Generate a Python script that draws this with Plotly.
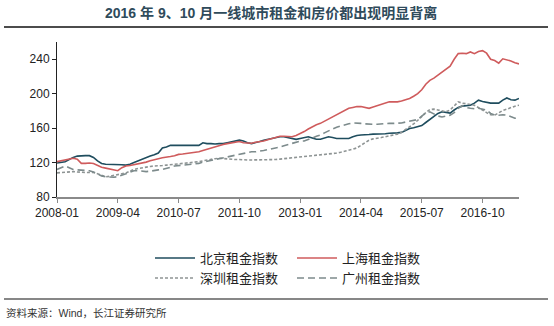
import pandas as pd
import plotly.graph_objects as go

# Monthly rent indices, 2008-01 onward
beijing = [
    119.5, 120, 121, 123.5, 126, 127.5, 128, 128, 128, 126,
    122, 119, 118, 118, 118, 117.5, 117.5, 117, 118, 120,
    122, 124, 126, 127.5, 129, 131, 137, 138, 140, 140,
    140, 140, 140, 139.5, 140, 140, 143, 142, 142, 141.5,
    142, 142, 143, 144, 145.5, 146, 145, 143, 142, 143,
    144.5, 146, 147, 148, 148.5, 150, 150, 149, 148, 147,
    148, 149, 150, 148.5, 147, 147, 148.5, 150, 149, 148,
    148, 148, 148, 150, 151.5, 152, 152, 152.5, 153, 153,
    153, 153.5, 154, 154, 154.5, 155, 157, 159.5, 160.5, 161.5,
    163, 166.5, 170, 174, 177, 179, 178, 177.5, 181, 184,
    185.5, 186, 186.5, 189, 192.5, 191, 190, 189, 189, 189,
    192.5, 195, 193, 192.5, 194.5,
]
shanghai = [
    121, 122, 123, 124.5, 125, 124, 119, 119, 119.5, 119,
    116.5, 114.5, 113.5, 112.5, 112, 110.5, 114, 116, 116.5, 117.5,
    118, 119, 120.5, 122, 123.5, 124.5, 125.5, 126, 127, 128,
    129.5, 130, 130.5, 131, 132, 132.5, 134, 135.5, 136.5, 138,
    139.5, 141, 142, 143, 144, 144.5, 143, 142.5, 142.5, 143.5,
    144, 145, 146.5, 148, 149.5, 150.5, 150.5, 150, 150, 151.5,
    153.5, 156, 159, 161.5, 164, 165.5, 168, 170, 172.5, 175.5,
    177.5, 180, 183, 184, 185, 185, 184, 183, 184.5, 186,
    187.5, 189.5, 190.5, 190.5, 190.5, 191.5, 193, 194.5, 197, 200,
    204.5, 211, 215.5, 218, 221.5, 225, 228, 232, 240, 246.5,
    247, 246.5, 248.5, 246.5, 249, 250, 247, 240, 238.5, 235.5,
    240.5, 239.5, 238, 236, 234.5,
]
shenzhen = [
    108, 108.5, 109, 109.5, 109.5, 109, 108.5, 108.5, 108.5, 108.5,
    107, 105, 103.5, 104, 105, 106, 106.5, 108, 110, 112,
    113, 114, 115, 115.5, 116, 116, 116.5, 117, 117.5, 118,
    118, 118.5, 119, 119.5, 120.5, 121, 122, 123, 124, 124.5,
    125, 124.5, 124, 123.5, 123.5, 123.5, 123, 123, 123, 123,
    123, 123, 123.5, 123.5, 123.5, 124, 124.5, 125, 125.5, 126,
    126.5, 126.5, 127, 127.5, 128, 128.5, 129, 130, 130.5, 131,
    132, 133, 134, 135.5, 137, 140, 143, 146, 147.5, 148,
    149, 150, 151, 152, 153, 155, 158, 161, 165, 169,
    174, 178, 181.5, 182, 181, 180, 179, 181, 186, 190.5,
    189, 188.5, 187.5, 186.5, 184, 181, 178, 175.5, 175, 178,
    180.5, 182, 184, 185.5, 186.5,
]
guangzhou = [
    112, 114, 116, 114, 112, 111.5, 111, 110.5, 110.5, 109,
    106.5, 104.5, 103.5, 103, 103, 103.5, 105, 107, 109, 110.5,
    110.5, 110, 109.5, 110, 111, 111.5, 112, 113, 114.5, 116,
    116.5, 117, 117.5, 118, 118.5, 119, 120.5, 121.5, 123, 124,
    125, 126, 127, 128, 128.5, 129.5, 131, 132, 132.5, 132.5,
    133, 134, 135, 136, 136.5, 138, 139.5, 141, 142.5, 144,
    145, 145, 146.5, 148.5, 150.5, 152, 154.5, 157, 159, 161,
    162.5, 164, 165, 166, 166, 165.5, 165, 164.5, 164.5, 164.5,
    165, 165, 165.5, 165.5, 165.5, 166, 167, 168, 169, 170,
    174, 177.5, 179, 176, 174, 173, 174, 175, 178, 183,
    186, 184, 183, 182.5, 183, 182, 181, 177, 175, 175,
    175.5, 175, 173, 171.5, 171,
]

months = pd.date_range("2008-01-01", periods=len(beijing), freq="MS").strftime("%Y-%m").tolist()
tick_labels = ["2008-01", "2009-04", "2010-07", "2011-10", "2013-01", "2014-04", "2015-07", "2016-10"]
y_ticks = [80, 120, 160, 200, 240]

names = ["北京租金指数", "上海租金指数", "深圳租金指数", "广州租金指数"]
colors = ["#1f4d5e", "#cf5b5c", "#8e9494", "#7d8b8c"]
dashes = ["solid", "solid", "3px,2px", "7px,4px"]
legends = ["legend", "legend", "legend2", "legend2"]

W, H = 554, 326
L, R, T, B = 57, 35, 42, 129
PW, PH = W - L - R, H - T - B

def px(x):
    return (x - L) / PW

def py(y):
    return (H - B - y) / PH

CJK = "Liberation Sans, Arial, Noto Sans CJK SC, sans-serif"

fig = go.Figure()
for vals, name, col, dash, lg in zip([beijing, shanghai, shenzhen, guangzhou], names, colors, dashes, legends):
    fig.add_trace(go.Scatter(
        x=months[:len(vals)], y=vals, mode="lines", name=name,
        line=dict(color=col, width=1.6, dash=dash), legend=lg,
    ))

legend_style = dict(orientation="h", xanchor="left", yanchor="middle",
                    font=dict(size=13, color="#222"), itemwidth=40, entrywidth=87,
                    tracegroupgap=0, bgcolor="rgba(0,0,0,0)")

fig.update_layout(
    width=W, height=H,
    margin=dict(l=L, r=R, t=T, b=B),
    paper_bgcolor="white", plot_bgcolor="white",
    font=dict(family=CJK, size=12, color="#222"),
    xaxis=dict(
        type="category", range=[0, len(beijing) - 1],
        tickmode="array", tickvals=tick_labels, ticktext=tick_labels,
        showline=True, linecolor="#8a8a8a", linewidth=2,
        ticks="outside", ticklen=4, tickcolor="#8a8a8a", tickwidth=1,
        showgrid=False, zeroline=False, tickfont=dict(size=12, color="#222"),
    ),
    yaxis=dict(
        range=[80, 260], tickvals=y_ticks,
        showline=True, linecolor="#222", linewidth=1,
        ticks="outside", ticklen=4, tickcolor="#222",
        showgrid=False, zeroline=False, tickfont=dict(size=12, color="#222"),
    ),
    legend=dict(x=px(150), y=py(258), **legend_style),
    legend2=dict(x=px(150), y=py(278), **legend_style),
    showlegend=True,
)

# Title and rules
fig.add_annotation(
    text="<b>2016 年 9、10 月一线城市租金和房价都出现明显背离</b>",
    xref="paper", yref="paper", x=px(103), y=py(13), xanchor="left", yanchor="middle",
    showarrow=False, font=dict(family=CJK, size=14, color="#2f4b5b"),
)
fig.add_shape(type="line", xref="paper", yref="paper", x0=px(4), x1=px(548), y0=py(27), y1=py(27),
              line=dict(color="#111", width=1.5))
fig.add_shape(type="line", xref="paper", yref="paper", x0=px(4), x1=px(548), y0=py(299), y1=py(299),
              line=dict(color="#111", width=1.2))
fig.add_annotation(
    text="资料来源：Wind，长江证券研究所",
    xref="paper", yref="paper", x=px(4), y=py(313), xanchor="left", yanchor="middle",
    showarrow=False, font=dict(family=CJK, size=10.5, color="#333"),
)

fig.write_html("out.html")
